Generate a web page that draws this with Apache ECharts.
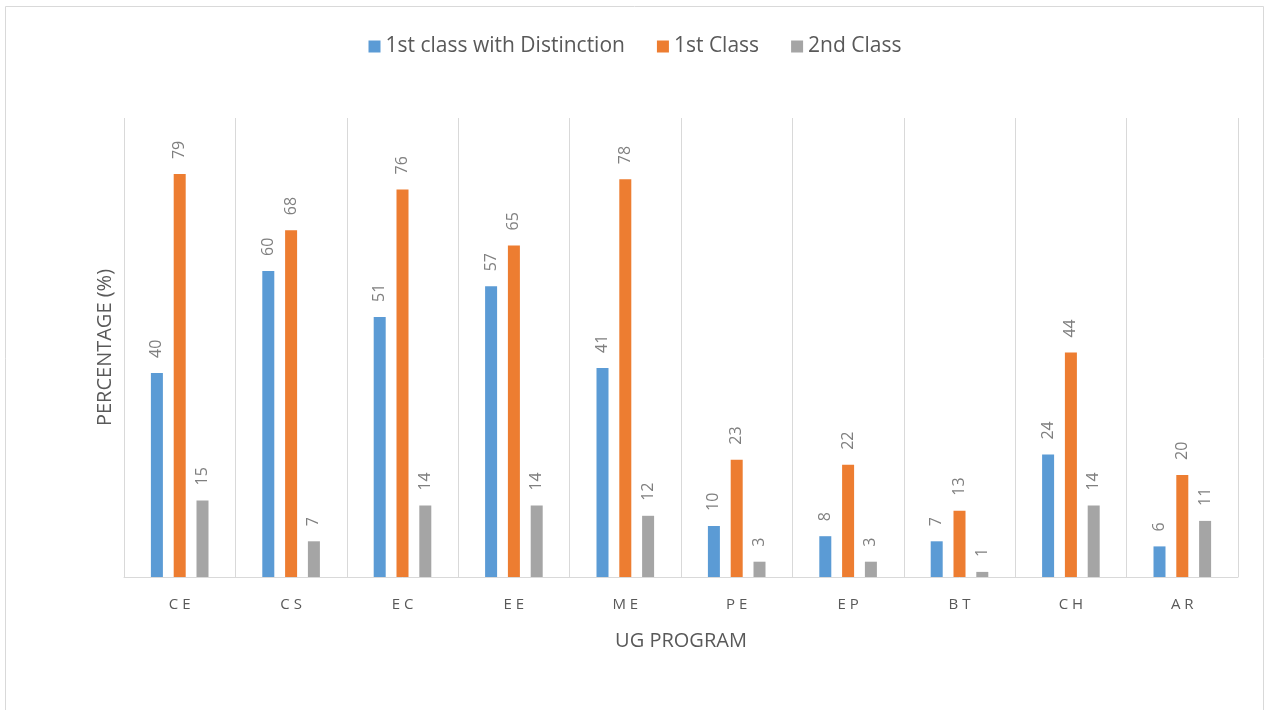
<!DOCTYPE html>
<html>
<head>
<meta charset="utf-8">
<script src="https://cdn.jsdelivr.net/npm/echarts@6/dist/echarts.min.js"></script>
<style>html,body{margin:0;padding:0;background:#fff;}#c{width:1270px;height:710px;}</style>
</head>
<body>
<div id="c"></div>
<script>
const categories = ['CE','CS','EC','EE','ME','PE','EP','BT','CH','AR'];
const distinction = [40,60,51,57,41,10,8,7,24,6];
const firstClass = [79,68,76,65,78,23,22,13,44,20];
const secondClass = [15,7,14,14,12,3,3,1,14,11];
const seriesNames = ['1st class with Distinction','1st Class','2nd Class'];
const colors = ['#5B9BD5','#ED7D31','#A5A5A5'];

const chart = echarts.init(document.getElementById('c'));
const font = '"Open Sans", "Noto Sans", sans-serif';
const labelCfg = {
  show: true, position: 'top', rotate: 90, align: 'left', verticalAlign: 'middle',
  distance: 15, color: '#7f7f7f', fontSize: 16, fontFamily: font
};
function mk(name, data, color){
  return {name, type:'bar', data, barWidth: 12, barGap: '90%',
    itemStyle:{color}, label: labelCfg};
}
chart.setOption({
  animation: false,
  textStyle: {fontFamily: font},
  graphic: [{type:'rect', shape:{x:5.5,y:6.5,width:1258,height:720}, style:{fill:'none', stroke:'#d9d9d9', lineWidth:1}}],
  legend: {top: 31, left: 'center', itemWidth: 12, itemHeight: 12, itemGap: 32,
    icon: 'rect', textStyle:{fontSize: 21, color:'#595959', fontFamily: font}},
  grid: {left: 124, right: 32, top: 118, bottom: 133},
  xAxis: {type:'category', data: categories,
    name: 'UG PROGRAM', nameLocation:'middle', nameGap: 54,
    nameTextStyle:{fontSize: 20, color:'#595959', fontFamily: font},
    axisLine:{lineStyle:{color:'#d9d9d9', width:1}},
    axisTick:{show:false},
    axisLabel:{color:'#595959', fontSize: 15, margin: 20, fontFamily: font, formatter: v => v.split('').join(' ')},
    splitLine:{show:true, lineStyle:{color:'#d9d9d9', width:1}}},
  yAxis: {type:'value', min:0, max:90, interval: 10,
    name:'PERCENTAGE (%)', nameLocation:'middle', nameGap: 9,
    nameTextStyle:{fontSize: 20, color:'#595959', fontFamily: font},
    axisLine:{show:false}, axisTick:{show:false}, axisLabel:{show:false}, splitLine:{show:false}},
  series: [mk(seriesNames[0], distinction, colors[0]), mk(seriesNames[1], firstClass, colors[1]), mk(seriesNames[2], secondClass, colors[2])]
});
</script>
</body>
</html>
